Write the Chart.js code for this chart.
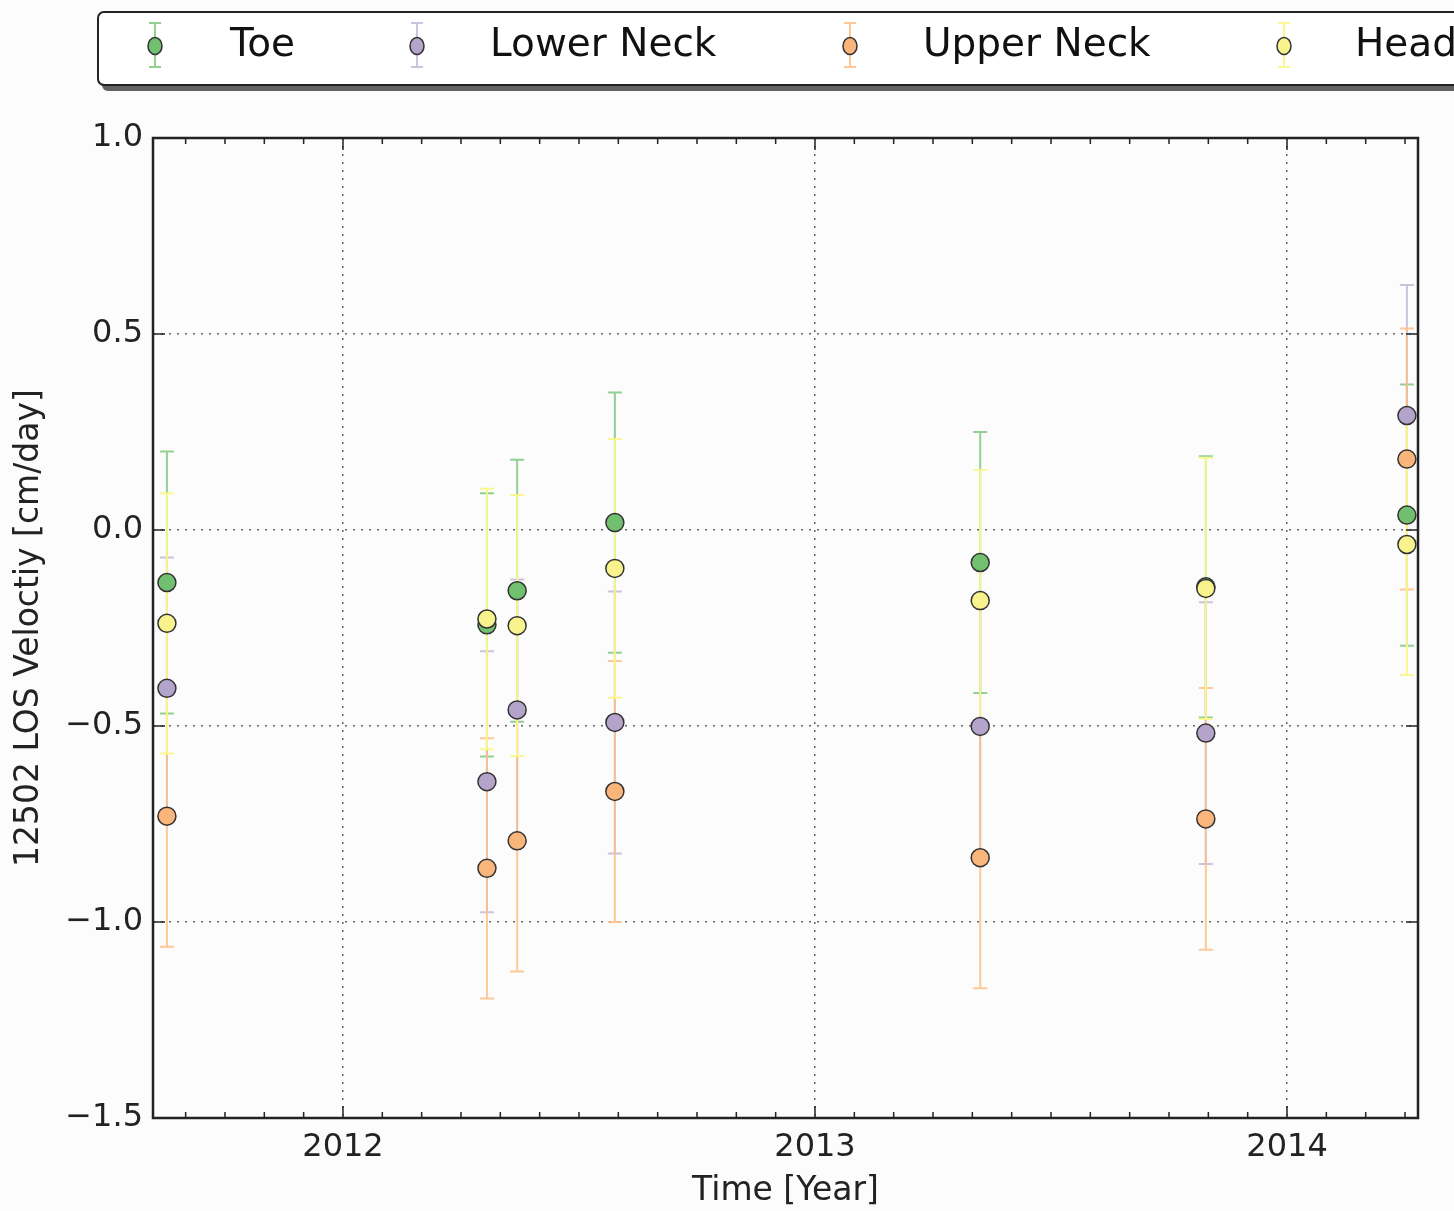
<!DOCTYPE html>
<html lang="en">
<head>
<meta charset="UTF-8">
<title>12502 LOS Velocity</title>
<script src="https://cdn.jsdelivr.net/npm/chart.js"></script>
<style>
  html, body { margin: 0; padding: 0; background: #fcfcfc; overflow: hidden; }
  #wrap { width: 1454px; height: 1211px; }
</style>
</head>
<body>
<div id="wrap"><canvas id="myChart" width="1454" height="1211"></canvas></div>
<script>
// acquisition dates (decimal year)
const dates = [2011.627, 2012.305, 2012.369, 2012.576, 2013.350, 2013.828, 2014.254];

const seriesNames = ['Toe', 'Lower Neck', 'Upper Neck', 'Head'];

// LOS velocity [cm/day] and 1-sigma error
const toe      = [-0.134, -0.242, -0.155,  0.019, -0.083, -0.145,  0.038];
const toeErr   = [ 0.334,  0.336,  0.334,  0.332,  0.333,  0.333,  0.333];
const lowerNeck    = [-0.404, -0.642, -0.459, -0.491, -0.501, -0.518,  0.292];
const lowerNeckErr = [ 0.334,  0.333,  0.333,  0.334,  0.333,  0.334,  0.333];
const upperNeck    = [-0.730, -0.863, -0.793, -0.667, -0.836, -0.737,  0.181];
const upperNeckErr = [ 0.333,  0.332,  0.333,  0.333,  0.333,  0.334,  0.333];
const head     = [-0.238, -0.227, -0.244, -0.098, -0.180, -0.149, -0.037];
const headErr  = [ 0.332,  0.332,  0.333,  0.330,  0.333,  0.333,  0.333];

const yTicks = [-1.5, -1.0, -0.5, 0.0, 0.5, 1.0];
const xTicks = [2012, 2013, 2014];

const markerColors = ['#70c070', '#b4a4cc', '#f9b57a', '#f8f38c'];
const barColors = ['rgba(127,201,127,0.85)', 'rgba(190,174,212,0.75)', 'rgba(253,192,134,0.85)', 'rgba(250,248,140,0.95)'];

const values = [toe, lowerNeck, upperNeck, head];
const errors = [toeErr, lowerNeckErr, upperNeckErr, headErr];

const FONT = "'DejaVu Sans', 'Liberation Sans', sans-serif";

const datasets = seriesNames.map((name, i) => ({
  label: name,
  data: dates.map((d, j) => ({ x: d, y: values[i][j] })),
  errs: errors[i],
  barColor: barColors[i],
  backgroundColor: markerColors[i],
  borderColor: '#333',
  borderWidth: 1.5,
  pointRadius: 9,
  order: seriesNames.length - i
}));

// vertical error bars with caps
const errorBars = {
  id: 'errorBars',
  beforeDatasetsDraw(chart) {
    const c = chart.ctx, xs = chart.scales.x, ys = chart.scales.y;
    c.save();
    c.lineWidth = 2;
    chart.data.datasets.forEach(ds => {
      c.strokeStyle = ds.barColor;
      ds.data.forEach((p, j) => {
        const px = xs.getPixelForValue(p.x);
        const y1 = ys.getPixelForValue(p.y + ds.errs[j]);
        const y2 = ys.getPixelForValue(p.y - ds.errs[j]);
        c.beginPath();
        c.moveTo(px, y1); c.lineTo(px, y2);
        c.moveTo(px - 7, y1); c.lineTo(px + 7, y1);
        c.moveTo(px - 7, y2); c.lineTo(px + 7, y2);
        c.stroke();
      });
    });
    c.restore();
  }
};

// frame + inward ticks like matplotlib classic
const frameTicks = {
  id: 'frameTicks',
  afterDraw(chart) {
    const c = chart.ctx, a = chart.chartArea, xs = chart.scales.x, ys = chart.scales.y;
    c.save();
    c.strokeStyle = '#222';
    c.lineWidth = 1.5;
    c.beginPath();
    xTicks.forEach(v => {
      const px = xs.getPixelForValue(v);
      c.moveTo(px, a.bottom); c.lineTo(px, a.bottom - 12);
      c.moveTo(px, a.top); c.lineTo(px, a.top + 12);
    });
    for (let k = Math.ceil(xs.min * 12); k <= Math.floor(xs.max * 12); k++) {
      if (k % 12 === 0) continue;
      const px = xs.getPixelForValue(k / 12);
      c.moveTo(px, a.bottom); c.lineTo(px, a.bottom - 6);
      c.moveTo(px, a.top); c.lineTo(px, a.top + 6);
    }
    yTicks.forEach(v => {
      const py = ys.getPixelForValue(v);
      c.moveTo(a.left, py); c.lineTo(a.left + 12, py);
      c.moveTo(a.right, py); c.lineTo(a.right - 12, py);
    });
    c.stroke();
    c.lineWidth = 2.5;
    c.strokeRect(a.left, a.top, a.right - a.left, a.bottom - a.top);
    c.restore();
  }
};

// legend box across the top (runs off the right edge like the original)
const topLegend = {
  id: 'topLegend',
  afterDraw(chart) {
    const c = chart.ctx;
    const markerX = [155, 417, 850, 1284];
    const textX = [230, 490, 923, 1355];
    const cy = 46;
    c.save();
    c.fillStyle = 'rgba(70,70,70,0.85)';
    c.beginPath(); c.roundRect(102, 16, 1400, 75, 6); c.fill();
    c.fillStyle = '#fff';
    c.strokeStyle = '#222';
    c.lineWidth = 2;
    c.beginPath(); c.roundRect(98, 12, 1400, 73, 6); c.fill(); c.stroke();
    chart.data.datasets.forEach((ds, i) => {
      const mx = markerX[i];
      c.strokeStyle = ds.barColor;
      c.lineWidth = 2;
      c.beginPath();
      c.moveTo(mx, 23); c.lineTo(mx, 67);
      c.moveTo(mx - 6, 23); c.lineTo(mx + 6, 23);
      c.moveTo(mx - 6, 67); c.lineTo(mx + 6, 67);
      c.stroke();
      c.fillStyle = ds.backgroundColor;
      c.strokeStyle = '#333';
      c.lineWidth = 1.5;
      c.beginPath(); c.ellipse(mx, cy, 7, 8.5, 0, 0, Math.PI * 2); c.fill(); c.stroke();
      c.fillStyle = '#111';
      c.font = '39px ' + FONT;
      c.textBaseline = 'middle';
      c.textAlign = 'left';
      c.fillText(ds.label, textX[i], cy);
    });
    c.restore();
  }
};

const ctx = document.getElementById('myChart');
const chart = new Chart(ctx, {
  type: 'scatter',
  data: { datasets: datasets },
  options: {
    responsive: false,
    animation: false,
    devicePixelRatio: 1,
    layout: { padding: { top: 138, right: 36, left: 0, bottom: 0 } },
    plugins: { legend: { display: false }, tooltip: { enabled: false } },
    scales: {
      x: {
        type: 'linear',
        min: 2011.5975,
        max: 2014.2775,
        afterBuildTicks: s => { s.ticks = xTicks.map(v => ({ value: v })); },
        afterFit: s => { s.height = 93; },
        border: { display: false, dash: [2, 6] },
        grid: { drawTicks: false, color: 'rgba(0,0,0,0.6)', lineWidth: 1.5 },
        ticks: { padding: 10, color: '#222', font: { family: FONT, size: 32 }, callback: v => String(v) },
        title: { display: true, text: 'Time [Year]', color: '#222', font: { family: FONT, size: 33 }, padding: { top: 0, bottom: 0 } }
      },
      y: {
        min: -1.5,
        max: 1.0,
        afterBuildTicks: s => { s.ticks = yTicks.map(v => ({ value: v })); },
        afterFit: s => { s.width = 153; },
        border: { display: false, dash: [2, 6] },
        grid: { drawTicks: false, color: 'rgba(0,0,0,0.6)', lineWidth: 1.5 },
        ticks: { padding: 10, color: '#222', font: { family: FONT, size: 32 },
                 callback: v => v.toFixed(1).replace('-', '\u2212') },
        title: { display: true, text: '12502 LOS Veloctiy [cm/day]', color: '#222', font: { family: FONT, size: 33 }, padding: { top: 10, bottom: 0 } }
      }
    }
  },
  plugins: [errorBars, frameTicks, topLegend]
});
</script>
</body>
</html>
